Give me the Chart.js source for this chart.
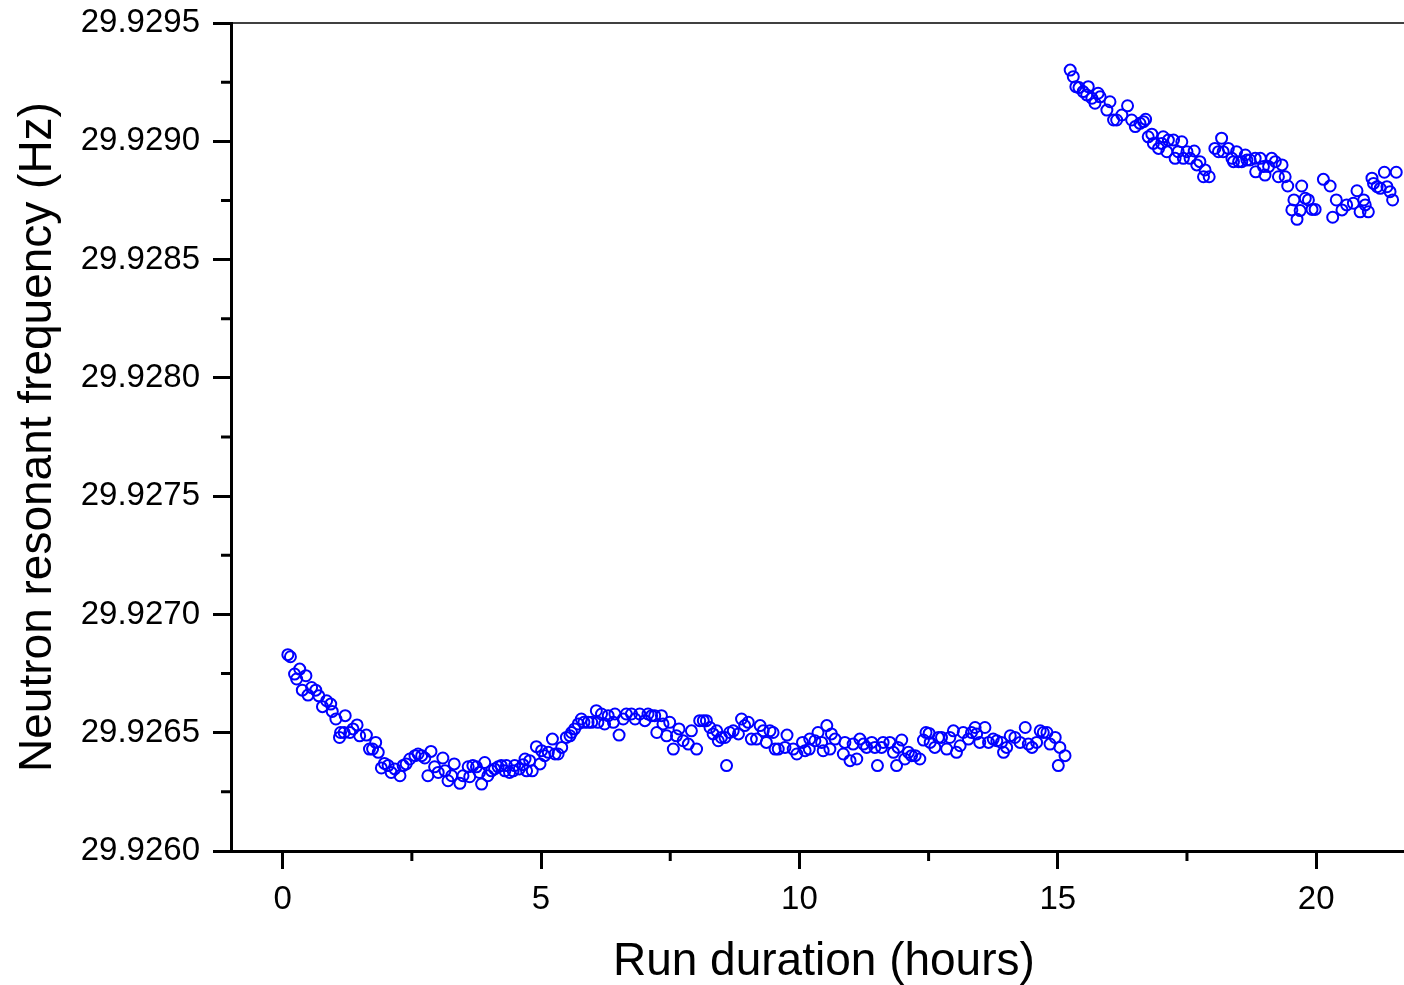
<!DOCTYPE html>
<html lang="en">
<head>
<meta charset="utf-8">
<title>Neutron resonant frequency</title>
<script src="https://cdn.jsdelivr.net/npm/chart.js@4.4.1/dist/chart.umd.min.js"></script>
<style>
    html, body { margin: 0; padding: 0; background: #fff; }
    #chart { display: block; }
</style>
</head>
<body>
<canvas id="chart" width="1404" height="985"></canvas>
<script>
// Primera serie (0 - 15 h)
const runAHours = [
    0.10, 0.15, 0.23, 0.27, 0.33, 0.38, 0.45, 0.49, 0.56, 0.64,
    0.70, 0.77, 0.85, 0.93, 0.96, 1.03, 1.10, 1.12, 1.19, 1.21,
    1.30, 1.36, 1.44, 1.49, 1.62, 1.68, 1.74, 1.80, 1.85, 1.91,
    1.97, 2.04, 2.10, 2.17, 2.27, 2.33, 2.39, 2.46, 2.56, 2.62,
    2.69, 2.75, 2.81, 2.87, 2.94, 3.01, 3.10, 3.14, 3.20, 3.27,
    3.32, 3.43, 3.49, 3.59, 3.62, 3.68, 3.75, 3.81, 3.85, 3.91,
    3.97, 4.04, 4.10, 4.17, 4.23, 4.30, 4.33, 4.39, 4.46, 4.49,
    4.58, 4.65, 4.69, 4.72, 4.78, 4.83, 4.91, 4.98, 5.01, 5.07,
    5.14, 5.22, 5.27, 5.33, 5.40, 5.49, 5.56, 5.59, 5.65, 5.72,
    5.78, 5.83, 5.91, 5.98, 6.07, 6.10, 6.17, 6.23, 6.30, 6.40,
    6.43, 6.51, 6.59, 6.65, 6.75, 6.82, 6.91, 7.01, 7.07, 7.14,
    7.20, 7.24, 7.33, 7.36, 7.43, 7.49, 7.56, 7.62, 7.67, 7.75,
    7.85, 7.91, 8.01, 8.07, 8.14, 8.20, 8.27, 8.33, 8.40, 8.43,
    8.49, 8.56, 8.59, 8.65, 8.72, 8.82, 8.88, 8.94, 9.01, 9.07,
    9.17, 9.24, 9.30, 9.36, 9.43, 9.49, 9.53, 9.59, 9.72, 9.76,
    9.88, 9.95, 10.06, 10.11, 10.19, 10.20, 10.30, 10.36, 10.43, 10.46,
    10.53, 10.59, 10.62, 10.69, 10.85, 10.88, 10.98, 11.04, 11.11, 11.17,
    11.24, 11.30, 11.40, 11.46, 11.51, 11.59, 11.62, 11.75, 11.82, 11.88,
    11.91, 11.98, 12.04, 12.11, 12.17, 12.24, 12.33, 12.40, 12.45, 12.51,
    12.53, 12.62, 12.69, 12.75, 12.85, 12.91, 12.98, 13.04, 13.11, 13.17,
    13.27, 13.33, 13.40, 13.43, 13.49, 13.59, 13.66, 13.75, 13.82, 13.91,
    13.95, 14.01, 14.08, 14.17, 14.27, 14.37, 14.43, 14.50, 14.59, 14.66,
    14.72, 14.79, 14.85, 14.95, 15.01, 15.04, 15.14
];
const runAFreq = [
    29.926830, 29.926821, 29.926748, 29.926727, 29.926769, 29.926680, 29.926741, 29.926659, 29.926691, 29.926680,
    29.926656, 29.926610, 29.926635, 29.926621, 29.926590, 29.926558, 29.926480, 29.926501, 29.926501, 29.926572,
    29.926501, 29.926516, 29.926533, 29.926487, 29.926490, 29.926431, 29.926431, 29.926459, 29.926417, 29.926351,
    29.926370, 29.926361, 29.926332, 29.926347, 29.926318, 29.926361, 29.926368, 29.926389, 29.926403, 29.926410,
    29.926403, 29.926393, 29.926318, 29.926421, 29.926356, 29.926332, 29.926393, 29.926339, 29.926297, 29.926318,
    29.926368, 29.926286, 29.926318, 29.926356, 29.926314, 29.926361, 29.926356, 29.926332, 29.926283, 29.926374,
    29.926318, 29.926339, 29.926347, 29.926356, 29.926361, 29.926339, 29.926361, 29.926332, 29.926339, 29.926361,
    29.926347, 29.926365, 29.926389, 29.926339, 29.926382, 29.926339, 29.926441, 29.926368, 29.926424, 29.926403,
    29.926417, 29.926473, 29.926410, 29.926410, 29.926438, 29.926480, 29.926487, 29.926501, 29.926516, 29.926537,
    29.926558, 29.926544, 29.926544, 29.926544, 29.926593, 29.926544, 29.926579, 29.926537, 29.926572, 29.926544,
    29.926579, 29.926490, 29.926558, 29.926579, 29.926579, 29.926558, 29.926579, 29.926551, 29.926579, 29.926572,
    29.926572, 29.926501, 29.926572, 29.926537, 29.926487, 29.926544, 29.926431, 29.926487, 29.926516, 29.926466,
    29.926452, 29.926508, 29.926431, 29.926551, 29.926551, 29.926551, 29.926522, 29.926495, 29.926508, 29.926466,
    29.926480, 29.926480, 29.926361, 29.926501, 29.926508, 29.926495, 29.926558, 29.926530, 29.926544, 29.926473,
    29.926473, 29.926530, 29.926508, 29.926459, 29.926508, 29.926501, 29.926431, 29.926431, 29.926438, 29.926490,
    29.926431, 29.926410, 29.926459, 29.926424, 29.926431, 29.926473, 29.926466, 29.926501, 29.926459, 29.926424,
    29.926530, 29.926431, 29.926495, 29.926473, 29.926410, 29.926459, 29.926382, 29.926452, 29.926389, 29.926473,
    29.926452, 29.926438, 29.926459, 29.926438, 29.926361, 29.926438, 29.926459, 29.926459, 29.926417, 29.926361,
    29.926438, 29.926469, 29.926389, 29.926417, 29.926403, 29.926403, 29.926389, 29.926469, 29.926501, 29.926497,
    29.926459, 29.926438, 29.926480, 29.926480, 29.926431, 29.926480, 29.926508, 29.926417, 29.926445, 29.926501,
    29.926473, 29.926501, 29.926522, 29.926495, 29.926459, 29.926522, 29.926459, 29.926473, 29.926466, 29.926459,
    29.926417, 29.926438, 29.926487, 29.926480, 29.926459, 29.926522, 29.926452, 29.926438, 29.926459, 29.926508,
    29.926501, 29.926501, 29.926452, 29.926480, 29.926361, 29.926438, 29.926403
];

// Segunda serie (15 - 21.5 h)
const runBHours = [
    15.24, 15.30, 15.35, 15.41, 15.49, 15.56, 15.59, 15.66, 15.72, 15.78,
    15.82, 15.95, 16.01, 16.08, 16.14, 16.24, 16.35, 16.43, 16.50, 16.59,
    16.66, 16.70, 16.75, 16.82, 16.85, 16.95, 17.01, 17.04, 17.11, 17.14,
    17.24, 17.27, 17.33, 17.40, 17.43, 17.50, 17.56, 17.64, 17.69, 17.75,
    17.82, 17.85, 17.93, 18.04, 18.11, 18.17, 18.20, 18.30, 18.37, 18.40,
    18.46, 18.50, 18.56, 18.63, 18.66, 18.72, 18.82, 18.83, 18.92, 18.98,
    19.01, 19.08, 19.14, 19.21, 19.27, 19.34, 19.40, 19.45, 19.53, 19.57,
    19.63, 19.69, 19.72, 19.79, 19.85, 19.92, 19.98, 20.14, 20.27, 20.32,
    20.39, 20.50, 20.59, 20.72, 20.79, 20.85, 20.92, 20.95, 21.01, 21.08,
    21.11, 21.18, 21.24, 21.32, 21.37, 21.43, 21.48, 21.55
];
const runBFreq = [
    29.929301, 29.929273, 29.929231, 29.929227, 29.929210, 29.929196, 29.929231, 29.929182, 29.929161, 29.929203,
    29.929188, 29.929132, 29.929167, 29.929090, 29.929090, 29.929111, 29.929150, 29.929090, 29.929062, 29.929076,
    29.929083, 29.929093, 29.929019, 29.929030, 29.928991, 29.928970, 29.928991, 29.929019, 29.928956, 29.929005,
    29.929005, 29.928928, 29.928956, 29.928998, 29.928928, 29.928956, 29.928928, 29.928959, 29.928900, 29.928914,
    29.928850, 29.928879, 29.928850, 29.928970, 29.928956, 29.929013, 29.928956, 29.928970, 29.928928, 29.928914,
    29.928956, 29.928914, 29.928914, 29.928942, 29.928921, 29.928921, 29.928928, 29.928871, 29.928928, 29.928893,
    29.928857, 29.928893, 29.928928, 29.928914, 29.928850, 29.928900, 29.928850, 29.928811, 29.928710, 29.928752,
    29.928670, 29.928707, 29.928811, 29.928759, 29.928752, 29.928712, 29.928712, 29.928839, 29.928811, 29.928679,
    29.928752, 29.928710, 29.928731, 29.928738, 29.928791, 29.928702, 29.928752, 29.928731, 29.928702, 29.928844,
    29.928822, 29.928808, 29.928801, 29.928869, 29.928808, 29.928787, 29.928752, 29.928869
];

// Marcas de los ejes
const xTickValues = [0, 5, 10, 15, 20];
const xTickLabels = ['0', '5', '10', '15', '20'];
const xMinorTicks = [2.5, 7.5, 12.5, 17.5];
const yTickValues = [29.926, 29.9265, 29.927, 29.9275, 29.928, 29.9285, 29.929, 29.9295];
const yTickLabels = ['29.9260', '29.9265', '29.9270', '29.9275', '29.9280', '29.9285', '29.9290', '29.9295'];
const yMinorTicks = [29.92625, 29.92675, 29.92725, 29.92775, 29.92825, 29.92875, 29.92925];

const FONT = 'Arial, "Liberation Sans", sans-serif';
const BLUE = '#0000ff';

function toPoints(xs, ys) {
    return xs.map((x, i) => ({x: x, y: ys[i]}));
}

function pointDataset(label, xs, ys) {
    return {
        label: label,
        data: toPoints(xs, ys),
        borderColor: BLUE,
        backgroundColor: 'rgba(0, 0, 0, 0)',
        pointBorderColor: BLUE,
        pointBackgroundColor: 'rgba(0, 0, 0, 0)',
        pointRadius: 5.5,
        pointBorderWidth: 2,
        pointHoverRadius: 5.5,
        showLine: false
    };
}

// Marcas menores y línea superior del marco
const frameExtras = {
    id: 'frameExtras',
    afterDraw(chart) {
        const {ctx, chartArea, scales} = chart;
        ctx.save();
        ctx.strokeStyle = '#000';
        ctx.lineWidth = 3;
        ctx.beginPath();
        xMinorTicks.forEach(v => {
            const px = scales.x.getPixelForValue(v);
            ctx.moveTo(px, chartArea.bottom);
            ctx.lineTo(px, chartArea.bottom + 10);
        });
        yMinorTicks.forEach(v => {
            const py = scales.y.getPixelForValue(v);
            ctx.moveTo(chartArea.left, py);
            ctx.lineTo(chartArea.left - 10, py);
        });
        ctx.stroke();

        ctx.lineWidth = 1.5;
        ctx.beginPath();
        ctx.moveTo(chartArea.left, chartArea.top);
        ctx.lineTo(chartArea.right, chartArea.top);
        ctx.stroke();
        ctx.restore();
    }
};

const axisGrid = {
    display: true,
    drawOnChartArea: false,
    drawTicks: true,
    tickLength: 18,
    lineWidth: 3,
    color: '#000'
};

new Chart(document.getElementById('chart').getContext('2d'), {
    type: 'scatter',
    data: {
        datasets: [
            pointDataset('Run A', runAHours, runAFreq),
            pointDataset('Run B', runBHours, runBFreq)
        ]
    },
    options: {
        responsive: false,
        animation: false,
        layout: {
            autoPadding: false,
            padding: {top: 23, right: 0, bottom: 0, left: 0}
        },
        plugins: {
            legend: {display: false},
            tooltip: {enabled: false}
        },
        scales: {
            x: {
                type: 'linear',
                position: 'bottom',
                min: -1,
                max: 21.7,
                afterBuildTicks: (scale) => {
                    scale.ticks = xTickValues.map(v => ({value: v}));
                },
                afterFit: (scale) => {
                    scale.height = 134;
                    scale.paddingLeft = 0;
                    scale.paddingRight = 0;
                },
                ticks: {
                    callback: (value, index) => xTickLabels[index],
                    color: '#000',
                    font: {family: FONT, size: 33},
                    padding: 11,
                    maxRotation: 0,
                    autoSkip: false
                },
                grid: axisGrid,
                border: {display: true, color: '#000', width: 3},
                title: {
                    display: true,
                    text: ' Run duration (hours)',
                    color: '#000',
                    font: {family: FONT, size: 46, lineHeight: 1},
                    padding: {top: 0, bottom: 0}
                }
            },
            y: {
                type: 'linear',
                position: 'left',
                min: 29.926,
                max: 29.9295,
                afterBuildTicks: (scale) => {
                    scale.ticks = yTickValues.map(v => ({value: v}));
                },
                afterFit: (scale) => {
                    scale.width = 231;
                    scale.paddingTop = 0;
                    scale.paddingBottom = 0;
                },
                ticks: {
                    callback: (value, index) => yTickLabels[index],
                    color: '#000',
                    font: {family: FONT, size: 33},
                    padding: 13,
                    autoSkip: false
                },
                grid: axisGrid,
                border: {display: true, color: '#000', width: 3},
                title: {
                    display: true,
                    text: 'Neutron resonant frequency (Hz)',
                    color: '#000',
                    font: {family: FONT, size: 46, lineHeight: 1},
                    padding: {top: 15, bottom: 0}
                }
            }
        }
    },
    plugins: [frameExtras]
});
</script>
</body>
</html>
